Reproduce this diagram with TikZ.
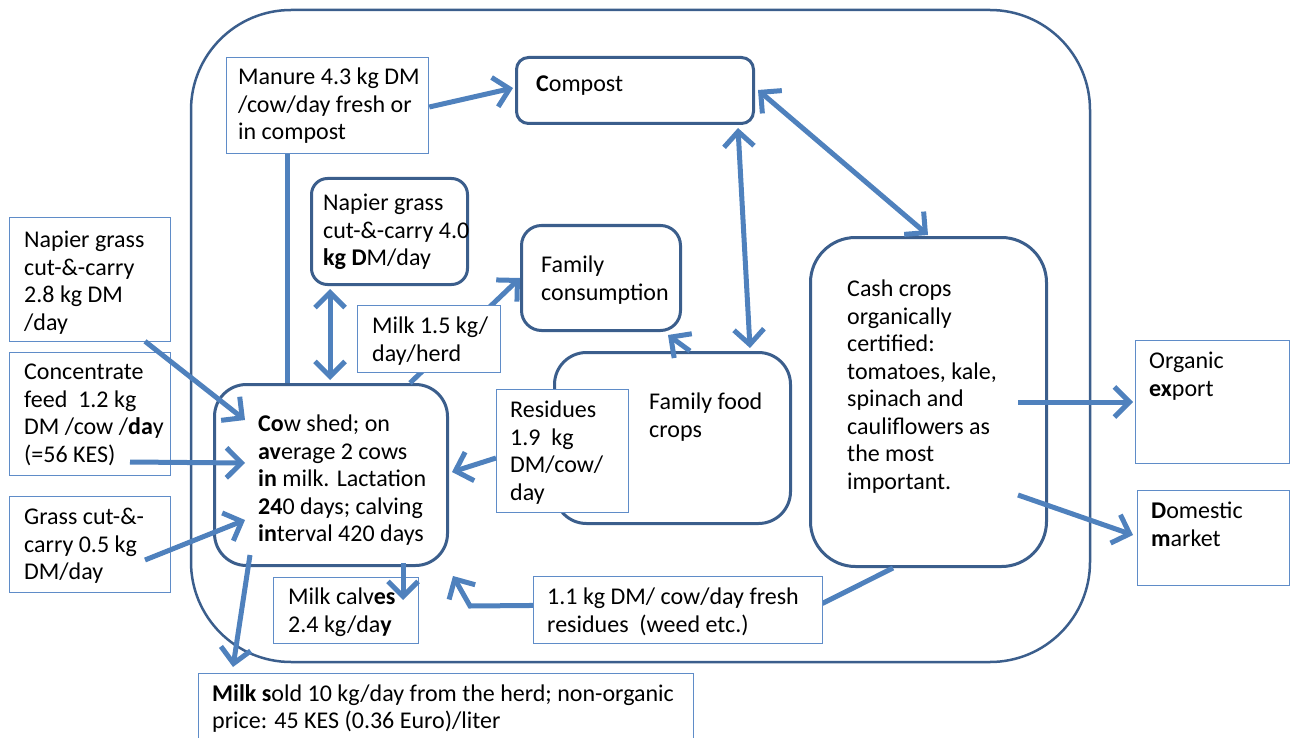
\documentclass[tikz,border=0pt]{standalone}
\usepackage{fontspec}
\setmainfont{Carlito}
\usetikzlibrary{arrows.meta,calc}
\definecolor{arrowblue}{RGB}{79,129,189}
\definecolor{darkblue}{RGB}{59,94,140}
\definecolor{thinblue}{RGB}{95,140,200}
\begin{document}
\begin{tikzpicture}[x=1pt,y=-1pt,
  rbox/.style={draw=darkblue, line width=3pt, fill=white, anchor=north west, inner sep=0pt},
  tbox/.style={draw=thinblue, line width=1.3pt, fill=white, anchor=north west, inner sep=0pt},
  txt/.style={anchor=north west, inner sep=0pt, align=left, font=\fontsize{24}{27.5}\selectfont},
  barb/.tip={Straight Barb[length=15pt,width=30pt]},
  arr/.style={draw=arrowblue, line width=5pt, -barb},
  darr/.style={draw=arrowblue, line width=5pt, barb-barb},
  plain/.style={draw=arrowblue, line width=5pt}]
\useasboundingbox (0,0) rectangle (1290,738);
% outer boundary
\draw[darkblue, line width=2.5pt, rounded corners=100pt] (191,10) rectangle (1090,662);
% rounded boxes
\node[rbox, rounded corners=12pt, minimum width=237pt, minimum height=66pt] (compost) at (515,56) {};
\node[rbox, rounded corners=16pt, minimum width=156pt, minimum height=106pt] (nap4) at (310,177) {};
\node[rbox, rounded corners=20pt, minimum width=159pt, minimum height=105pt] (famcons) at (520,224) {};
\node[rbox, rounded corners=32pt, minimum width=233pt, minimum height=181pt] (cow) at (213,383) {};
\node[rbox, rounded corners=32pt, minimum width=236pt, minimum height=171pt] (famfood) at (553,351) {};
\node[rbox, rounded corners=45pt, minimum width=236pt, minimum height=329pt] (cash) at (809,236) {};
% thin boxes (below arrows)
\node[tbox, minimum width=202pt, minimum height=96pt] (manure) at (226,57) {};
\node[tbox, minimum width=132pt, minimum height=123pt] (res) at (496,389) {};
\node[tbox, minimum width=154pt, minimum height=123pt] (organic) at (1135,340) {};
\node[tbox, minimum width=152pt, minimum height=95pt] (domestic) at (1137,490) {};
\node[tbox, minimum width=161pt, minimum height=124pt] (nap28) at (9,217) {};
\node[tbox, minimum width=161pt, minimum height=123pt] (conc) at (9,352) {};
\node[tbox, minimum width=161pt, minimum height=96pt] (grass) at (9,496) {};
\node[tbox, minimum width=145pt, minimum height=66pt] (calves) at (273,577) {};
\node[tbox, minimum width=495pt, minimum height=72pt] (sold) at (198,673) {};
% connectors
\draw[arr] ($(manure.north east)+(0,50)$) -- ($(compost.north west)+(-2,32)$);
\draw[plain] ($(manure.south west)+(61,0)$) -- ($(cow.north west)+(74,0)$);
\draw[darr] ($(nap4.south west)+(20,3)$) -- ($(cow.north west)+(117,-3)$);
\draw[arr] ($(cow.north west)+(197,0)$) -- ($(famcons.north west)+(0,54)$);
\draw[darr] ($(compost.south west)+(223,3)$) -- ($(famfood.north west)+(197,-3)$);
\draw[darr] ($(compost.north east)+(3,34)$) -- ($(cash.north west)+(119,-1)$);
\draw[arr] ($(famfood.north west)+(137,0)$) -- ($(famcons.south west)+(148,3)$);
\draw[arr] ($(res.north west)+(0,69)$) -- ($(cow.north east)+(3,89)$);
\draw[arr] ($(nap28.south west)+(136,-1)$) -- ($(cow.north west)+(32,37)$);
\draw[arr] ($(conc.north west)+(121,110)$) -- ($(cow.north west)+(32,80)$);
\draw[arr] ($(grass.north west)+(136,64)$) -- ($(cow.north west)+(32,137)$);
\draw[arr] ($(cow.south west)+(190,-4)$) -- ($(calves.north west)+(130,23)$);
\draw[arr] ($(cow.south west)+(37,-12)$) -- ($(sold.north west)+(35,-6)$);
\node[tbox, minimum width=289pt, minimum height=67pt] (box11) at (533,576) {};
\draw[arr] ($(cash.south west)+(84,0)$) -- ($(box11.north east)+(0,27)$) -- ($(box11.north west)+(-63,30)$) -- ($(cow.south east)+(4,9)$);
\draw[arr] ($(cash.north west)+(209,166)$) -- ($(organic.north west)+(-2,62)$);
\draw[arr] ($(cash.north west)+(209,259)$) -- ($(domestic.north west)+(-4,45)$);
% thin boxes above connectors
\node[tbox, minimum width=143pt, minimum height=67pt] (milk15) at (357,305) {};
\node[tbox, minimum width=289pt, minimum height=67pt] (box11b) at (533,576) {};
% texts
\node[txt] (manure-t) at ($(manure.north west)+(12,11)$) {Manure 4.3 kg DM\\/cow/day fresh or\\in compost};
\node[txt] (compost-t) at ($(compost.north west)+(21,20)$) {\textbf{C}ompost};
\node[txt] (nap4-t) at ($(nap4.north west)+(13,17)$) {Napier grass\\cut-\&-carry 4.0\\\textbf{kg D}M/day};
\node[txt] (famcons-t) at ($(famcons.north west)+(21,32)$) {Family\\consumption};
\node[txt] (milk15-t) at ($(milk15.north west)+(15,12)$) {Milk 1.5 kg/\\day/herd};
\node[txt] (cow-t) at ($(cow.north west)+(45,32)$) {\textbf{Co}w shed; on\\\textbf{av}erage 2 cows\\\textbf{in} milk. Lactation\\\textbf{24}0 days; calving\\\textbf{in}terval 420 days};
\node[txt] (famfood-t) at ($(famfood.north west)+(96,42)$) {Family food\\crops};
\node[txt] (res-t) at ($(res.north west)+(14,12)$) {Residues\\1.9\ \ kg\\DM/cow/\\day};
\node[txt] (cash-t) at ($(cash.north west)+(38,44)$) {Cash crops\\organically\\certified:\\tomatoes, kale,\\spinach and\\cauliflowers as\\the most\\important.};
\node[txt] (organic-t) at ($(organic.north west)+(14,12)$) {Organic\\\textbf{ex}port};
\node[txt] (domestic-t) at ($(domestic.north west)+(14,12)$) {\textbf{D}omestic\\\textbf{m}arket};
\node[txt] (nap28-t) at ($(nap28.north west)+(15,14)$) {Napier grass\\cut-\&-carry\\2.8 kg DM\\/day};
\node[txt] (conc-t) at ($(conc.north west)+(15,12)$) {Concentrate\\feed\ \ 1.2 kg\\DM /cow /\textbf{da}y\\(=56 KES)};
\node[txt] (grass-t) at ($(grass.north west)+(15,12)$) {Grass cut-\&-\\carry 0.5 kg\\DM/day};
\node[txt] (calves-t) at ($(calves.north west)+(15,11)$) {Milk calv\textbf{es}\\2.4 kg/da\textbf{y}};
\node[txt] (box11-t) at ($(box11b.north west)+(14,12)$) {1.1 kg DM/ cow/day fresh\\residues\ \ (weed etc.)};
\node[txt] (sold-t) at ($(sold.north west)+(14,11)$) {\textbf{Milk s}old 10 kg/day from the herd; non-organic\\price: 45 KES (0.36 Euro)/liter};
\end{tikzpicture}
\end{document}
